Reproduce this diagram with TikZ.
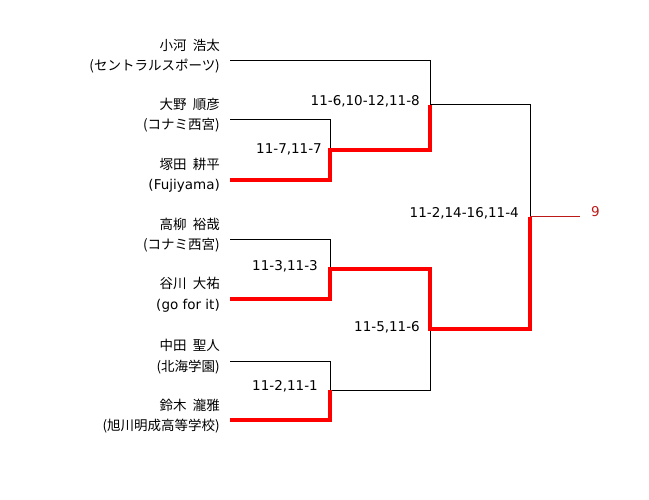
\documentclass[tikz,border=0pt]{standalone}
\usepackage{fontspec}
\setmainfont{DejaVu Sans}
\newfontfamily\jp{Noto Sans CJK JP}
\definecolor{winred}{RGB}{255,0,0}
\definecolor{darkred}{RGB}{190,25,25}
\begin{document}
\begin{tikzpicture}[x=1pt,y=-1pt,
  lbl/.style={anchor=base east,inner sep=0pt,font=\fontsize{13.5}{16}\selectfont},
  jlbl/.style={anchor=base east,inner sep=0pt,font=\fontsize{13.5}{16}\selectfont\jp},
  score/.style={anchor=base east,inner sep=0pt,font=\fontsize{13.5}{16}\selectfont},
  thin/.style={draw=black,line width=1pt},
  win/.style={draw=winred,line width=4pt},
  line join=miter]
\useasboundingbox (0,0) rectangle (649,500);
% coordinates
\coordinate (p1) at (230,61);
\coordinate (p2) at (230,120);
\coordinate (p3) at (230,180);
\coordinate (p4) at (230,240);
\coordinate (p5) at (230,299);
\coordinate (p6) at (230,361);
\coordinate (p7) at (230,420);
\coordinate (q23) at (330,150);
\coordinate (q45) at (330,269);
\coordinate (q67) at (330,390);
\coordinate (s1) at (430,105);
\coordinate (s2) at (430,329);
\coordinate (fin) at (530,217);
\coordinate (wend) at (580,217);
% player labels
\node[jlbl] (n1) at (220,51) {小河\hspace{0.45em}浩太};
\node[jlbl] (t1) at (220,71) {(セントラルスポーツ)};
\node[jlbl] (n2) at (220,110) {大野\hspace{0.45em}順彦};
\node[jlbl] (t2) at (220,130) {(コナミ西宮)};
\node[jlbl] (n3) at (220,170) {塚田\hspace{0.45em}耕平};
\node[lbl]  (t3) at (220,190) {(Fujiyama)};
\node[jlbl] (n4) at (220,230) {高柳\hspace{0.45em}裕哉};
\node[jlbl] (t4) at (220,250) {(コナミ西宮)};
\node[jlbl] (n5) at (220,289) {谷川\hspace{0.45em}大祐};
\node[lbl]  (t5) at (220,309) {(go for it)};
\node[jlbl] (n6) at (220,351) {中田\hspace{0.45em}聖人};
\node[jlbl] (t6) at (220,371) {(北海学園)};
\node[jlbl] (n7) at (220,410) {鈴木\hspace{0.45em}瀧雅};
\node[jlbl] (t7) at (220,430) {(旭川明成高等学校)};
% scores
\node[score] (sc1) at (420,106) {11-6,10-12,11-8};
\node[score] (sc2) at (322,154) {11-7,11-7};
\node[score] (sc3) at (318,271) {11-3,11-3};
\node[score] (sc4) at (420,331) {11-5,11-6};
\node[score] (sc5) at (318,391) {11-2,11-1};
\node[score] (sc6) at (519,218) {11-2,14-16,11-4};
\node[score,anchor=base west,text=darkred] (res) at (591,217) {9};
% black lines
\draw[thin] (p1) -| (s1) -- (s1 -| fin) -- (fin);
\draw[thin] (p2) -| (q23);
\draw[thin] (p4) -| (q45);
\draw[thin] (p6) -| (q67);
\draw[thin] (q67) -| (s2);
% winner line
\draw[draw=darkred,line width=1pt] (fin) -- (wend);
% red paths
\draw[win] (p3) -| (q23) -| (s1);
\draw[win] (p5) -| (q45) -| (s2) -| (fin);
\draw[win] (p7) -| (q67);
\end{tikzpicture}
\end{document}
